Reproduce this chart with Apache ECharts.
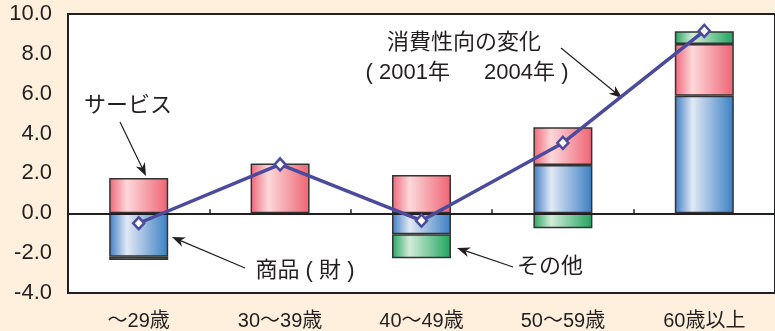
<!DOCTYPE html>
<html>
<head>
<meta charset="utf-8">
<script src="https://cdn.jsdelivr.net/npm/echarts@6/dist/echarts.min.js"></script>
<style>
  html, body { margin: 0; padding: 0; background: #fef0dc; }
  #chart { width: 775px; height: 331px; }
</style>
</head>
<body>
<div id="chart"></div>
<script>
// Age groups of household heads
const categories = ['～29歳', '30～39歳', '40～49歳', '50～59歳', '60歳以上'];
// Contribution by spending type (percentage points)
const goods    = [-2.18, 0,    -1.05, 2.42, 5.90];
const services = [ 1.77, 2.50,  1.92, 1.90, 2.60];
const others   = [-0.16, 0,    -1.20, -0.75, 0.64];
// Change in propensity to consume, 2001 → 2004
const propensityChange = [-0.50, 2.45, -0.37, 3.53, 9.15];
// Value axis ticks
const yMin = -4, yMax = 10, yStep = 2;

const FONT = '"Liberation Sans", "Noto Sans CJK JP", sans-serif';
const INK = '#231f20';

// empty segments are left out so they draw no outline
const seg = arr => arr.map(v => (v === 0 ? '-' : v));

function barGradient(edgeL, light, edgeR) {
  return new echarts.graphic.LinearGradient(0, 0, 1, 0, [
    { offset: 0, color: edgeL },
    { offset: 0.3, color: light },
    { offset: 1, color: edgeR }
  ]);
}

// Callout arrow: thin line with a filled head at (x2, y2)
function arrow(x1, y1, x2, y2) {
  const len = 13, half = 5;
  const dx = x2 - x1, dy = y2 - y1;
  const d = Math.sqrt(dx * dx + dy * dy);
  const ux = dx / d, uy = dy / d;
  const bx = x2 - ux * len, by = y2 - uy * len;
  return {
    type: 'group',
    children: [
      { type: 'line', shape: { x1: x1, y1: y1, x2: x2 - ux * 6, y2: y2 - uy * 6 },
        style: { stroke: INK, lineWidth: 1.2 } },
      { type: 'polygon', shape: { points: [
          [x2, y2],
          [bx - uy * half, by + ux * half],
          [x2 - ux * len * 0.7, y2 - uy * len * 0.7],
          [bx + uy * half, by - ux * half]
        ] }, style: { fill: INK } }
    ]
  };
}

function label(text, x, y) {
  return { type: 'text', style: { text: text, x: x, y: y, align: 'center', verticalAlign: 'middle',
    font: '22px ' + FONT, fill: INK } };
}

const barCommon = {
  type: 'bar', stack: 'total', barWidth: 59, xAxisIndex: 0,
  itemStyle: { borderColor: '#333', borderWidth: 1.5 }
};

const chart = echarts.init(document.getElementById('chart'));
chart.setOption({
  backgroundColor: '#fef0dc',
  animation: false,
  grid: { left: 68, top: 14, width: 715, height: 279, show: true,
    backgroundColor: '#ffffff', borderColor: INK, borderWidth: 2 },
  xAxis: [
    { type: 'category', data: categories, position: 'bottom',
      axisLine: { show: false, onZero: false }, axisTick: { show: false },
      axisLabel: { fontSize: 20, color: INK, fontFamily: FONT, margin: 18 } },
    { type: 'category', data: categories, position: 'bottom', z: 3,
      axisLine: { show: true, onZero: true, lineStyle: { color: INK, width: 2 } },
      axisTick: { show: true, inside: true, length: 4, lineStyle: { color: INK, width: 1.5 } },
      axisLabel: { show: false } }
  ],
  yAxis: {
    type: 'value', min: yMin, max: yMax, interval: yStep,
    axisLine: { show: false }, axisTick: { show: false }, splitLine: { show: false },
    axisLabel: { fontSize: 22, color: INK, fontFamily: FONT, margin: 16,
      formatter: v => v.toFixed(1) }
  },
  series: [
    Object.assign({}, barCommon, { name: '商品（財）', data: seg(goods),
      itemStyle: Object.assign({}, barCommon.itemStyle, { color: barGradient('#3d7cc5', '#e2e9f5', '#3a7fc3') }) }),
    Object.assign({}, barCommon, { name: 'サービス', data: seg(services),
      itemStyle: Object.assign({}, barCommon.itemStyle, { color: barGradient('#ef6679', '#fcd8da', '#ee6373') }) }),
    Object.assign({}, barCommon, { name: 'その他', data: seg(others),
      itemStyle: Object.assign({}, barCommon.itemStyle, { color: barGradient('#23a560', '#d3ecd9', '#1fa45e') }) }),
    { name: '消費性向の変化', type: 'line', data: propensityChange, xAxisIndex: 0, z: 6,
      lineStyle: { color: '#4b4a9c', width: 3.5 },
      symbol: 'diamond', symbolSize: [11, 12],
      itemStyle: { color: '#ffffff', borderColor: '#4b4a9c', borderWidth: 2.5 } }
  ],
  graphic: [
    label('サービス', 128, 106),
    arrow(120, 122, 146, 176),
    label('商品 ( 財 )', 305, 271),
    arrow(245, 268, 172, 237),
    label('その他', 550, 267),
    arrow(513, 267, 457, 248),
    label('消費性向の変化', 464, 43),
    label('( 2001年　  2004年 )', 467, 73),
    arrow(561, 48, 622, 98)
  ]
});
</script>
</body>
</html>
